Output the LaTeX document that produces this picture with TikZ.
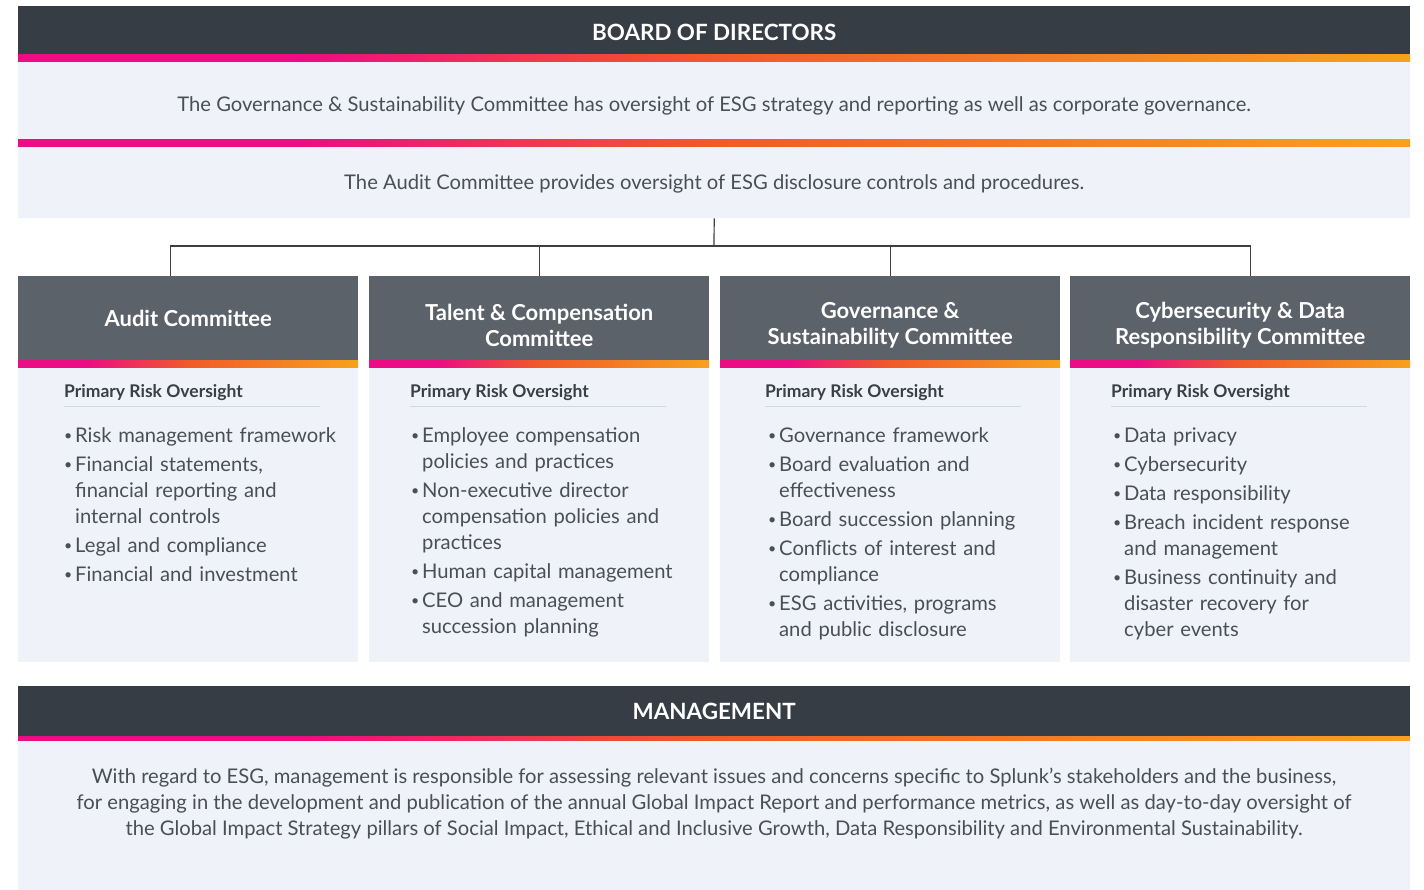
\documentclass[tikz,border=0pt]{standalone}
\usepackage{fontspec}
\setmainfont{Lato}
\usetikzlibrary{calc}

\definecolor{boarddark}{HTML}{373D45}
\definecolor{headgrey}{HTML}{5C6269}
\definecolor{panelbg}{HTML}{EFF2F8}
\definecolor{bodytext}{HTML}{4A4F56}
\definecolor{titletext}{HTML}{3A3F46}
\definecolor{rulegrey}{HTML}{D3D9E4}
\definecolor{esgpink}{HTML}{EC0C83}
\definecolor{esgred}{HTML}{F15A29}
\definecolor{esgorange}{HTML}{F8A11E}

\pgfdeclarehorizontalshading{esgstrip}{100bp}{color(0bp)=(esgpink); color(25bp)=(esgpink); color(35bp)=(esgpink); color(50bp)=(esgred); color(75bp)=(esgorange); color(100bp)=(esgorange)}

\newcommand{\riskitem}[1]{\par\hangindent=11pt\hangafter=1\noindent\makebox[11pt][l]{\raisebox{1.5pt}{\scalebox{0.7}{•}}}#1}

\begin{document}
\begin{tikzpicture}[x=1pt,y=-1pt,
	darkbar/.style={fill=boarddark,text=white,font=\bfseries\fontsize{22.4}{26}\selectfont,
		minimum width=1392pt,minimum height=49pt,anchor=north west,inner sep=0},
	panel/.style={fill=panelbg,text=bodytext,anchor=north west,inner sep=0,
		font=\fontsize{20.2}{26}\selectfont},
	comhead/.style={fill=headgrey,text=white,align=center,anchor=north west,inner sep=0,
		minimum width=340pt,minimum height=85pt,font=\bfseries\fontsize{22}{26}\selectfont},
	prim/.style={text=titletext,anchor=base west,inner sep=0,font=\bfseries\fontsize{17.5}{20}\selectfont},
	risklist/.style={text=bodytext,anchor=north west,inner sep=0,text width=300pt,align=left,
		font=\fontsize{20.2}{26}\selectfont,execute at begin node={\setlength{\parskip}{3pt}}},
	strip/.style={shading=esgstrip},
	link/.style={draw=titletext,line width=1.2pt},
	rule/.style={draw=rulegrey,line width=1pt}]
	
	\useasboundingbox[fill=white] (0,0) rectangle (1424,890);
	
	% Board of directors
	\node[darkbar,text height=21pt,text depth=1pt] (board) at (18,6) {BOARD OF DIRECTORS};
	\shade[strip] (18,55) rectangle (1410,62);
	\node[panel,minimum width=1392pt,minimum height=78pt,text height=21pt,text depth=1pt] (govnote) at (18,62)
		{The Governance \& Sustainability Committee has oversight of ESG strategy and reporting as well as corporate governance.};
	\shade[strip] (18,140) rectangle (1410,147);
	\node[panel,minimum width=1392pt,minimum height=71pt,text height=18pt,text depth=4pt] (auditnote) at (18,147)
		{The Audit Committee provides oversight of ESG disclosure controls and procedures.};
	
	% Committee headers
	\node[comhead] (audit) at (18,276) {Audit Committee};
	\node[comhead] (talent) at (369,276) {\rule{0pt}{30pt}Talent \& Compensation\\Committee};
	\node[comhead] (gov) at (720,276) {\rule{0pt}{30pt}Governance \&\\Sustainability Committee};
	\node[comhead] (cyber) at (1070,276) {\rule{0pt}{30pt}Cybersecurity \& Data\\Responsibility Committee};
	\foreach \c in {18,369,720,1070}
		\shade[strip] (\c,361) rectangle ++(340,7);
	
	% Connectors
	\coordinate (hub) at (714,246);
	\coordinate (audtop) at ($(audit.north)+(-18,0)$);
	\coordinate (cybtop) at ($(cyber.north)+(10,0)$);
	\draw[link] (auditnote.south) -- (hub);
	\draw[link] (audtop) -- (audtop |- hub) -- (cybtop |- hub) -- (cybtop);
	\draw[link] (talent.north) -- (talent.north |- hub);
	\draw[link] (gov.north) -- (gov.north |- hub);
	
	% Committee panels
	\node[panel,minimum width=340pt,minimum height=294pt] (auditbox) at (18,368) {};
	\node[panel,minimum width=340pt,minimum height=294pt] (talentbox) at (369,368) {};
	\node[panel,minimum width=340pt,minimum height=294pt] (govbox) at (720,368) {};
	\node[panel,minimum width=340pt,minimum height=294pt] (cyberbox) at (1070,368) {};
	
	\node[prim] (prim1) at (64,398) {Primary Risk Oversight};
	\node[prim] (prim2) at (410,398) {Primary Risk Oversight};
	\node[prim] (prim3) at (765,398) {Primary Risk Oversight};
	\node[prim] (prim4) at (1111,398) {Primary Risk Oversight};
	\foreach \p in {prim1,prim2,prim3,prim4}
		\draw[rule] ($(\p.base west)+(0,8)$) -- ++(256,0);
	
	\node[risklist] (list1) at (64,413) {%
		\riskitem{Risk management framework}
		\riskitem{Financial statements,\newline financial reporting and\newline internal controls}
		\riskitem{Legal and compliance}
		\riskitem{Financial and investment}\par};
	\node[risklist] (list2) at (411,413) {%
		\riskitem{Employee compensation\newline policies and practices}
		\riskitem{Non-executive director\newline compensation policies and\newline practices}
		\riskitem{Human capital management}
		\riskitem{CEO and management\newline succession planning}\par};
	\node[risklist] (list3) at (768,413) {%
		\riskitem{Governance framework}
		\riskitem{Board evaluation and\newline effectiveness}
		\riskitem{Board succession planning}
		\riskitem{Conflicts of interest and\newline compliance}
		\riskitem{ESG activities, programs\newline and public disclosure}\par};
	\node[risklist] (list4) at (1113,413) {%
		\riskitem{Data privacy}
		\riskitem{Cybersecurity}
		\riskitem{Data responsibility}
		\riskitem{Breach incident response\newline and management}
		\riskitem{Business continuity and\newline disaster recovery for\newline cyber events}\par};
	
	% Management
	\node[darkbar,minimum height=50pt] (mgmt) at (18,686) {MANAGEMENT};
	\shade[strip] (18,736) rectangle (1410,741);
	\node[panel,minimum width=1392pt,minimum height=149pt] (mgmtbox) at (18,741) {};
	\node[text=bodytext,align=center,anchor=north,inner sep=0,font=\fontsize{20.2}{26}\selectfont] (mgmtnote) at (714,768)
		{With regard to ESG, management is responsible for assessing relevant issues and concerns specific to Splunk’s stakeholders and the business,\\
		for engaging in the development and publication of the annual Global Impact Report and performance metrics, as well as day-to-day oversight of\\
		the Global Impact Strategy pillars of Social Impact, Ethical and Inclusive Growth, Data Responsibility and Environmental Sustainability.};
	
\end{tikzpicture}
\end{document}
